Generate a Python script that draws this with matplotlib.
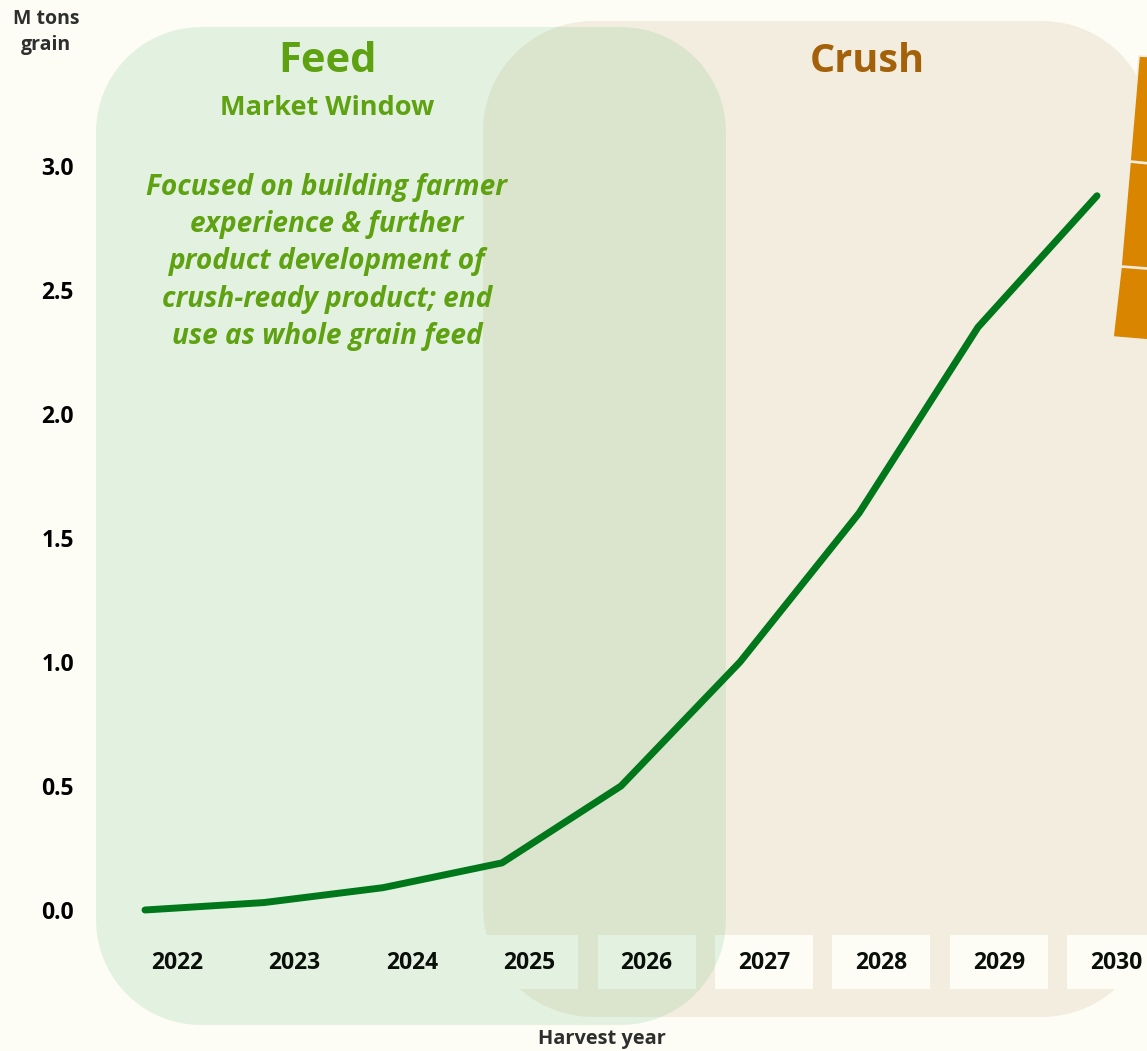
import numpy as np
import matplotlib
matplotlib.use("Agg")
import matplotlib.pyplot as plt
from matplotlib.patches import Polygon, Rectangle
from matplotlib.transforms import ScaledTranslation, blended_transform_factory

# ---- data ----
years = [2022, 2023, 2024, 2025, 2026, 2027, 2028, 2029, 2030]
volume = [0.0, 0.03, 0.09, 0.19, 0.50, 1.00, 1.60, 2.35, 2.88]
yticks = [0.0, 0.5, 1.0, 1.5, 2.0, 2.5, 3.0]
ytick_labels = ["0.0", "0.5", "1.0", "1.5", "2.0", "2.5", "3.0"]
xtick_labels = [str(y) for y in years]
feed_title = "Feed"
feed_sub = "Market Window"
feed_note = ("Focused on building farmer\nexperience & further\nproduct development of\n"
             "crush-ready product; end\nuse as whole grain feed")
crush_title = "Crush"
ylabel = "M tons\ngrain"
xlabel = "Harvest year"

# ---- style ----
W, H, DPI = 1147, 1051, 100
FONT = "Open Sans"
BG = "#FDFDF6"
CRUSH_BG = "#F3EDE0"
GREEN_TXT = "#5EA111"
BROWN_TXT = "#A3620A"
LINE = "#00771A"

plt.rcParams["font.family"] = [FONT, "DejaVu Sans"]

fig = plt.figure(figsize=(W / DPI, H / DPI), dpi=DPI, facecolor=BG)
ax = fig.add_axes([0, 0, 1, 1])
ax.set_facecolor(BG)
for s in ax.spines.values():
    s.set_visible(False)

# pixel mapping: 2022 -> x=145, 119 px / year ; value 0 -> y=910, 248 px / unit
x0_px, px_per_year = 145, 119
y0_px, px_per_unit = 910, 248
ax.set_xlim(years[0] - x0_px / px_per_year, years[0] + (W - x0_px) / px_per_year)
ax.set_ylim(-(H - y0_px) / px_per_unit, y0_px / px_per_unit)


def px(x, y):
    """figure pixel (top-left origin) -> axes fraction"""
    return x / W, 1 - y / H


def rounded_rect(left, top, right, bottom, r, n=20):
    pts = []
    corners = [
        (right - r, top + r, -90, 0),
        (right - r, bottom - r, 0, 90),
        (left + r, bottom - r, 90, 180),
        (left + r, top + r, 180, 270),
    ]
    for cx, cy, a0, a1 in corners:
        for a in np.linspace(np.radians(a0), np.radians(a1), n):
            pts.append(px(cx + r * np.cos(a), cy + r * np.sin(a)))
    return pts


# label offsets (pixels) of the category labels relative to the data points
label_shift_px = [32 - 1.6 * i for i in range(len(years))]

# background shapes
ax.add_patch(Polygon(rounded_rect(483, 21, 1152, 1017, 110), closed=True,
                     facecolor=CRUSH_BG, edgecolor="none", transform=ax.transAxes, zorder=0.5))

# label boxes
trans_box = blended_transform_factory(ax.transData, ax.transAxes)
box_w = 98 / px_per_year
for yr, sh in zip(years, label_shift_px):
    ax.add_patch(Rectangle((yr + sh / px_per_year - box_w / 2, 1 - 989 / H), box_w, 54 / H,
                           facecolor=BG, edgecolor="none", transform=trans_box, zorder=0.7))

ax.add_patch(Polygon(rounded_rect(96, 27, 726, 1025, 105), closed=True,
                     facecolor="#7CC98A", alpha=0.2, edgecolor="none",
                     transform=ax.transAxes, zorder=0.9))

# orange decoration on the right edge
orange_segments = [
    [(1139, 56), (1160, 57), (1160, 164), (1130, 161)],
    [(1130, 162), (1160, 165), (1160, 269), (1121, 266)],
    [(1121, 267), (1160, 270), (1160, 341), (1113, 337)],
]
for seg in orange_segments:
    ax.add_patch(Polygon([px(*p) for p in seg], closed=True, facecolor="#D98500",
                         edgecolor="#F3EDE0", lw=1.2, transform=ax.transAxes, zorder=1))

# the line
ax.plot(years, volume, color=LINE, lw=5, solid_capstyle="round",
        solid_joinstyle="round", zorder=5)

# ticks
ax.set_yticks(yticks)
ax.set_yticklabels(ytick_labels, fontsize=16.5, fontweight="bold", color="black")
ax.tick_params(axis="y", length=0, pad=-74 * 72 / DPI)

ax.set_xticks(years)
ax.set_xticklabels(xtick_labels, fontsize=16.5, fontweight="bold", color="#0A0F0A", va="center")
ax.tick_params(axis="x", length=0, pad=-(H - 963) * 72 / DPI)
for lab, sh in zip(ax.get_xticklabels(), label_shift_px):
    lab.set_transform(lab.get_transform() + ScaledTranslation(sh / DPI, 0, fig.dpi_scale_trans))

# texts
def ftext(x, y, s, **kw):
    fig.text(x / W, 1 - y / H, s, **kw)

ftext(46, 32, ylabel, ha="center", va="center", fontsize=14, fontweight="bold",
      color="#2E2E2E", linespacing=1.45)
ftext(602, 1039, xlabel, ha="center", va="center", fontsize=14.4, fontweight="bold",
      color="#2E2E2E")
ftext(327, 61, feed_title, ha="center", va="center", fontsize=30, fontweight="bold",
      color=GREEN_TXT)
ftext(867, 61, crush_title, ha="center", va="center", fontsize=28.5, fontweight="bold",
      color=BROWN_TXT)
ftext(327, 108, feed_sub, ha="center", va="center", fontsize=19.5, fontweight="bold",
      color=GREEN_TXT)
ftext(327, 262, feed_note, ha="center", va="center", fontsize=20.2, fontweight="bold",
      style="italic", color=GREEN_TXT, linespacing=1.38)

fig.savefig("out.png", dpi=DPI, facecolor=BG)
